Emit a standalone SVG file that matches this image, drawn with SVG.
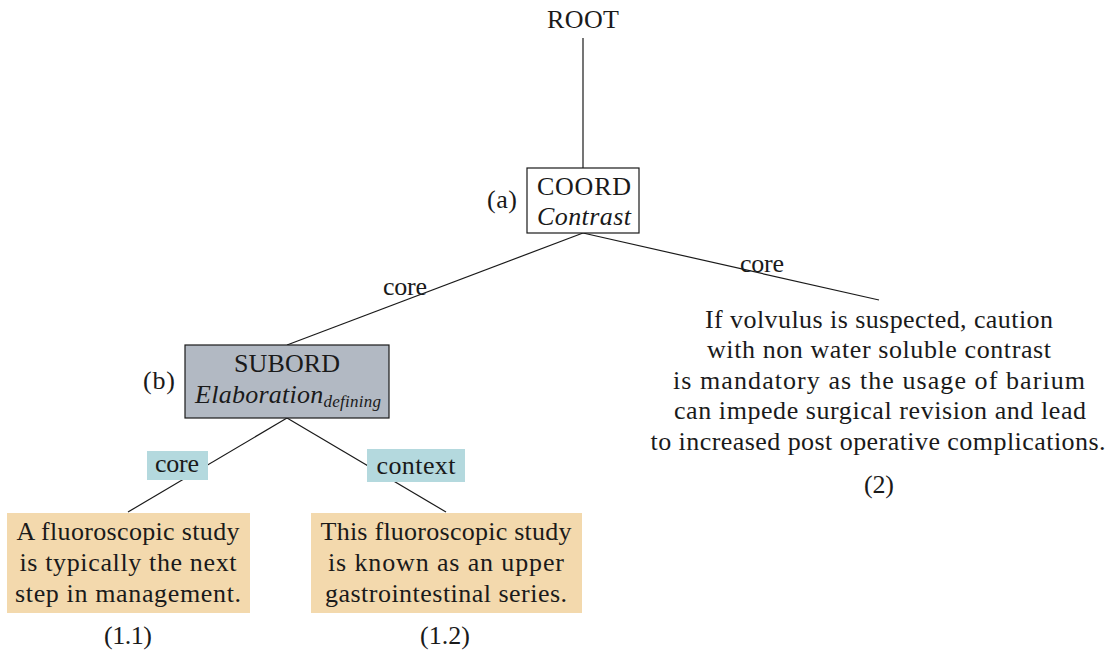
<svg xmlns="http://www.w3.org/2000/svg" width="1112" height="653" viewBox="0 0 1112 653">
<style>
.it{font-style:italic}
.edge{stroke:#1a1a1a;stroke-width:1.2;fill:none}
.lab{fill:#b4d9de}
.leaf{fill:#f3d9ad}
</style>
<rect width="1112" height="653" fill="#ffffff"/>
<g style="font-family:'Liberation Serif',serif" font-size="26" fill="#1a1a1a" text-anchor="middle">
<g id="connectors">
<line class="edge" x1="583" y1="38" x2="583" y2="168"/>
<line class="edge" x1="583" y1="233" x2="287" y2="345"/>
<line class="edge" x1="583" y1="233" x2="879" y2="300"/>
<line class="edge" x1="287" y1="418" x2="128" y2="512"/>
<line class="edge" x1="287" y1="418" x2="446" y2="512"/>
<text x="405" y="295" textLength="44">core</text>
<text x="762" y="272" textLength="44">core</text>
<rect class="lab" x="147" y="451" width="61" height="29"/>
<text x="177" y="472" textLength="44">core</text>
<rect class="lab" x="367" y="449" width="98" height="33"/>
<text x="416" y="474" textLength="79">context</text>
</g>
<g id="root"><text x="583" y="28" textLength="72">ROOT</text></g>
<g id="coord">
<rect x="527" y="168" width="112" height="65" fill="#ffffff" stroke="#1a1a1a" stroke-width="1.2"/>
<text x="584" y="195" textLength="94">COORD</text>
<text class="it" x="584" y="225" textLength="94">Contrast</text>
<text x="502" y="208" textLength="30">(a)</text>
</g>
<g id="subord">
<rect x="185" y="345" width="204" height="73" fill="#b2b9c3" stroke="#1a1a1a" stroke-width="1.2"/>
<text x="287" y="372" textLength="106">SUBORD</text>
<text x="288" y="403" textLength="186"><tspan class="it">Elaboration</tspan><tspan font-style="italic" font-size="17" dy="4">defining</tspan></text>
<text x="159" y="389" textLength="32">(b)</text>
</g>
<g id="leaf11">
<rect class="leaf" x="7" y="513" width="243" height="100"/>
<text x="128" y="540" textLength="223">A fluoroscopic study</text>
<text x="128" y="571" textLength="217">is typically the next</text>
<text x="128" y="602" textLength="226">step in management.</text>
<text x="128" y="644" textLength="48">(1.1)</text>
</g>
<g id="leaf12">
<rect class="leaf" x="311" y="513" width="271" height="100"/>
<text x="446" y="540" textLength="251">This fluoroscopic study</text>
<text x="446" y="571" textLength="236">is known as an upper</text>
<text x="446" y="602" textLength="242">gastrointestinal series.</text>
<text x="445" y="644" textLength="50">(1.2)</text>
</g>
<g id="leaf2">
<text x="879" y="328" textLength="348">If volvulus is suspected, caution</text>
<text x="879" y="358" textLength="344">with non water soluble contrast</text>
<text x="879" y="389" textLength="412">is mandatory as the usage of barium</text>
<text x="880" y="419" textLength="412">can impede surgical revision and lead</text>
<text x="878" y="450" textLength="455">to increased post operative complications.</text>
<text x="879" y="493" textLength="30">(2)</text>
</g>
</g>
</svg>
